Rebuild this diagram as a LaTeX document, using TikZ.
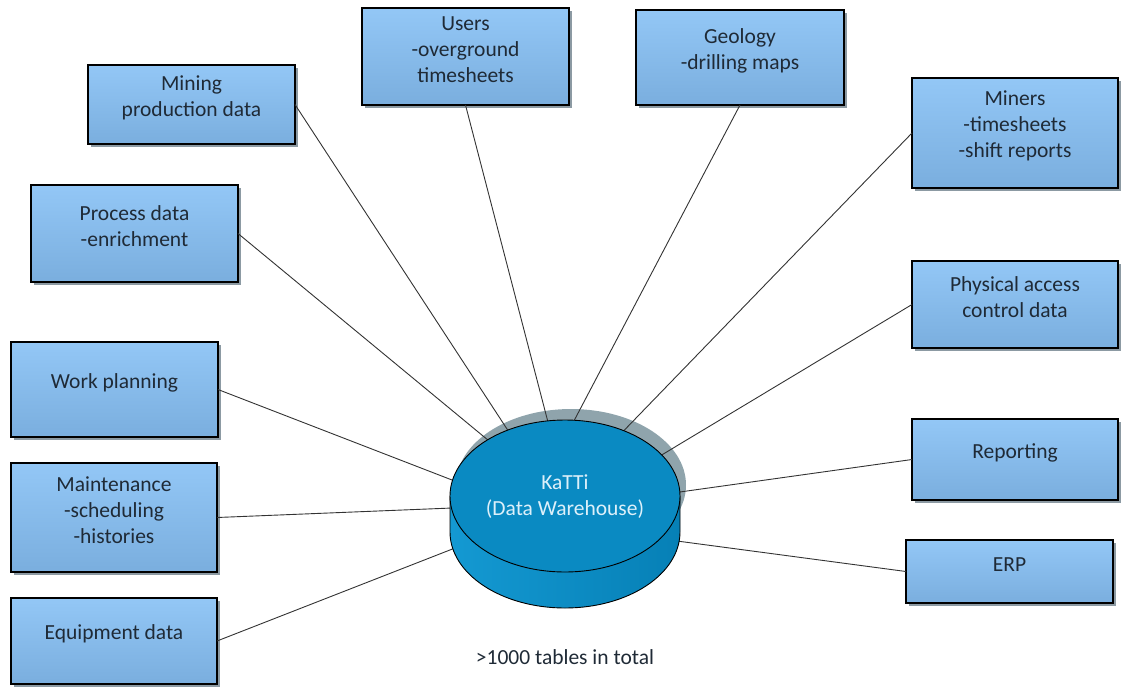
\documentclass[tikz,border=0pt]{standalone}
\usepackage{fontspec}
\setmainfont{Carlito}
\usetikzlibrary{shadows,shapes.geometric}

\definecolor{boxtop}{HTML}{93C7F6}
\definecolor{boxbot}{HTML}{7AAEDE}
\definecolor{boxshade}{HTML}{8C9AA3}
\definecolor{ink}{HTML}{1F2A36}
\definecolor{dbtop}{HTML}{0A8AC2}
\definecolor{dbleft}{HTML}{1499D2}
\definecolor{dbmid}{HTML}{0EA0DA}
\definecolor{dbright}{HTML}{0680B6}
\definecolor{dbshadow}{HTML}{8FA4AC}
\definecolor{dbink}{HTML}{DDF0FA}

% source box: name, left, top, right, bottom, label
\newcommand{\srcnode}[6]{%
  \node[srcbox, minimum width={#4-#2}, minimum height={#5-#3}] (#1)
    at ({(#2+#4)/2},{(#3+#5)/2}) {};
  \node[srctext] (#1-t) at ({(#2+#4)/2},{(#3+#5)/2-7}) {#6};}

\begin{document}
\begin{tikzpicture}[x=1pt,y=-1pt,
  srcbox/.style={draw=black, line width=1.2pt, top color=boxtop, bottom color=boxbot,
    drop shadow={shadow xshift=3pt, shadow yshift=-3pt, fill=boxshade, opacity=1},
    inner sep=0pt, outer sep=0pt},
  srctext/.style={font=\fontsize{21.5}{26}\selectfont, text=ink, align=center, inner sep=0pt},
  dbtext/.style={font=\fontsize{21.5}{26}\selectfont, text=dbink, align=center, inner sep=0pt},
  link/.style={draw=black!80, line width=0.9pt},
  dbline/.style={draw=black, line width=0.9pt}]
\useasboundingbox (0,0) rectangle (1122,686);

% source systems
\srcnode{mining}{88}{65}{295}{144}{Mining\\production data}
\srcnode{users}{362}{8}{569}{105}{Users\\-overground\\timesheets}
\srcnode{geology}{636}{10}{844}{105}{Geology\\-drilling maps}
\srcnode{miners}{912}{78}{1118}{188}{Miners\\-timesheets\\-shift reports}
\srcnode{process}{31}{185}{238}{282}{Process data\\-enrichment}
\srcnode{physical}{912}{261}{1118}{348}{Physical access\\control data}
\srcnode{work}{11}{342}{218}{437}{Work planning}
\srcnode{reporting}{912}{419}{1118}{500}{Reporting}
\srcnode{maint}{11}{463}{217}{572}{Maintenance\\-scheduling\\-histories}
\srcnode{erp}{906}{540}{1113}{603}{ERP}
\srcnode{equip}{11}{598}{217}{684}{Equipment data}

% warehouse: shadow first, then connectors, then the cylinder on top
\fill[dbshadow] (571,485) ellipse [x radius=115, y radius=76];
\node[ellipse, minimum width=230, minimum height=152, inner sep=0pt, outer sep=0pt] (db) at (565,496) {};
\coordinate (dbL) at (452,508);
\coordinate (dbE) at (455,548);
\coordinate (dbR) at (677,541);

\draw[link] (mining.east) -- (db.131);
\draw[link] (users.south) -- (db.103);
\draw[link] (geology.south) -- (db.83);
\draw[link] (miners.west) -- (db.48);
\draw[link] (process.east) -- (db.144);
\draw[link] (physical.west) -- (db.23);
\draw[link] (work.east) -- (db.172);
\draw[link] (reporting.west) -- (db.2);
\draw[link] (maint.east) -- (dbL);
\draw[link] (equip.east) -- (dbE);
\draw[link] (erp.west) -- (dbR);

\path[dbline, left color=dbleft, middle color=dbmid, right color=dbright]
  (450,496) -- (450,532) arc[start angle=180, end angle=0, x radius=115, y radius=76]
  -- (680,496) -- cycle;
\draw[dbline, fill=dbtop] (db.center) ellipse [x radius=115, y radius=76];
\node[dbtext] (dbt) at (565,497) {KaTTi\\(Data Warehouse)};

\node[srctext] (note) at (565,657) {>1000 tables in total};
\end{tikzpicture}
\end{document}
